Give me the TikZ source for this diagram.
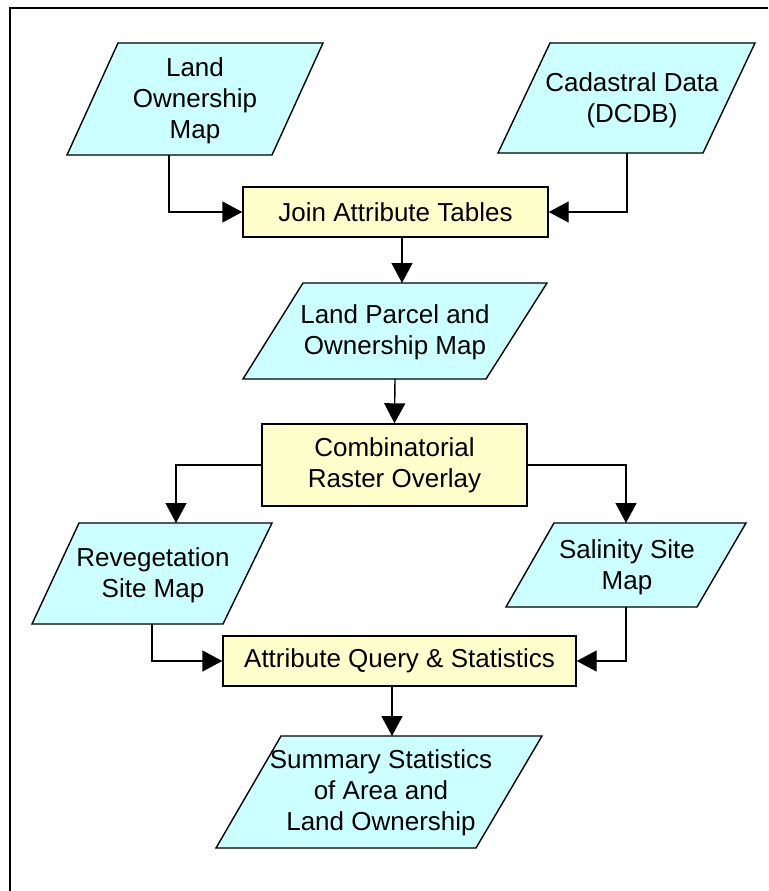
\documentclass[tikz,border=0pt]{standalone}
\usepackage{fontspec}
\setmainfont{Liberation Sans}
\usetikzlibrary{arrows.meta}

\definecolor{mapcyan}{HTML}{CCFFFF}
\definecolor{procyellow}{HTML}{FFFFCC}

\begin{document}
\begin{tikzpicture}[x = 1pt, y = -1pt,
    datashape/.style = {draw, fill = mapcyan, line width = 1.4pt},
    datatext/.style = {align = center, inner sep = 0pt,
      font = \fontsize{26}{31}\selectfont},
    proc/.style = {draw, fill = procyellow, line width = 1.4pt,
      inner sep = 0pt, align = center,
      font = \fontsize{26}{31}\selectfont},
    arr/.style = {line width = 1.4pt,
      -{Triangle[length = 20pt, width = 21pt]}}]
  \useasboundingbox (0, 0) rectangle (768, 891);

  % frame (only top and left edges show)
  \draw[line width = 2.4pt] (10, 891) -- (10, 8) -- (768, 8);

  % input maps
  \draw[datashape] (118, 43) -- (323, 43) -- (272, 155) -- (67, 155) -- cycle;
  \node[datatext] (own) at (195, 101) {Land\\Ownership\\Map};
  \coordinate (own-out) at (169, 155);

  \draw[datashape] (550, 43) -- (755, 43) -- (703, 153) -- (498, 153) -- cycle;
  \node[datatext] (cad) at (632, 100) {Cadastral Data\\(DCDB)};
  \coordinate (cad-out) at (627, 153);

  \node[proc, minimum width = 305pt, minimum height = 50pt]
    (join) at (395.5, 212) {Join Attribute Tables};

  \draw[arr] (own-out) |- (join.west);
  \draw[arr] (cad-out) |- (join.east);

  % joined map
  \draw[datashape] (303, 283) -- (547, 283) -- (486, 379) -- (243, 379) -- cycle;
  \node[datatext] (parcel) at (395, 332) {Land Parcel and\\Ownership Map};
  \coordinate (parcel-in) at (402, 283);
  \coordinate (parcel-out) at (395, 379);

  \draw[arr] (join.south -| parcel-in) -- (parcel-in);

  \node[proc, minimum width = 265pt, minimum height = 82pt]
    (comb) at (394.5, 465) {Combinatorial\\Raster Overlay};

  \draw[arr] (parcel-out) -- (comb.north);

  % site maps
  \draw[datashape] (79, 523) -- (272, 523) -- (223, 624) -- (32, 624) -- cycle;
  \node[datatext] (reveg) at (153, 575) {Revegetation\\Site Map};
  \coordinate (reveg-in) at (176, 523);
  \coordinate (reveg-out) at (152, 624);

  \draw[datashape] (554, 523) -- (746, 523) -- (697, 607) -- (506, 607) -- cycle;
  \node[datatext] (sal) at (627, 567) {Salinity Site\\Map};
  \coordinate (sal-in) at (626, 523);
  \coordinate (sal-out) at (626, 607);

  \draw[arr] (comb.west) -| (reveg-in);
  \draw[arr] (comb.east) -| (sal-in);

  \node[proc, minimum width = 353pt, minimum height = 50pt]
    (query) at (399.5, 661) {Attribute Query \& Statistics};

  \draw[arr] (reveg-out) |- (query.west);
  \draw[arr] (sal-out) |- (query.east);

  % result
  \draw[datashape] (281, 736) -- (542, 736) -- (476, 848) -- (216, 848) -- cycle;
  \node[datatext] (summary) at (381, 793)
    {Summary Statistics\\of Area and\\Land Ownership};
  \coordinate (summary-in) at (392, 736);

  \draw[arr] (query.south -| summary-in) -- (summary-in);
\end{tikzpicture}
\end{document}
